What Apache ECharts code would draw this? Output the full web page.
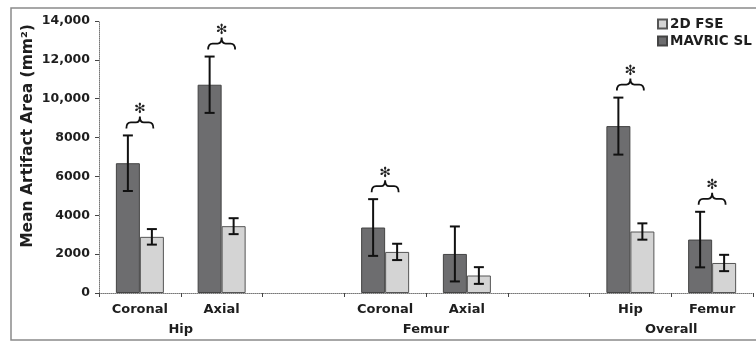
<!DOCTYPE html>
<html>
<head>
<meta charset="utf-8">
<script src="https://cdn.jsdelivr.net/npm/echarts@6/dist/echarts.min.js"></script>
<style>
html,body{margin:0;padding:0;background:#fff;}
#chart{width:756px;height:341px;}
</style>
</head>
<body>
<div id="chart"></div>
<script>
// ---- data ----
var categories = ['Coronal', 'Axial', '', 'Coronal', 'Axial', '', 'Hip', 'Femur'];
var groupLabels = { 1: 'Hip', 4: 'Femur', 7: 'Overall' };
var mavricMean = [6680, 10720, null, 3370, 2010, null, 8590, 2750];
var mavricSD   = [1430, 1450, null, 1460, 1415, null, 1467, 1430];
var fseMean    = [2890, 3440, null, 2115, 900, null, 3165, 1545];
var fseSD      = [400, 410, null, 420, 430, null, 420, 420];
var significant = [true, true, false, true, false, false, true, true];
var yTicks = [0, 2000, 4000, 6000, 8000, 10000, 12000, 14000];

var FONT = 'DejaVu Sans';
var TXT = '#1e1e1e';
var BAR_W = 24;

function errData(mean, sd) {
  var out = [];
  for (var i = 0; i < mean.length; i++) {
    if (mean[i] != null) out.push([i, mean[i], sd[i]]);
  }
  return out;
}
function braceData() {
  var out = [];
  for (var i = 0; i < categories.length; i++) {
    if (significant[i]) {
      var t = Math.max(mavricMean[i] + mavricSD[i], fseMean[i] + fseSD[i]);
      out.push([i, t]);
    }
  }
  return out;
}

function errRender(offset) {
  return function (params, api) {
    var i = api.value(0), m = api.value(1), s = api.value(2);
    var hi = api.coord([i, m + s]);
    var lo = api.coord([i, m - s]);
    var x = hi[0] + offset;
    var st = { stroke: '#111', lineWidth: 2 };
    return {
      type: 'group',
      children: [
        { type: 'line', shape: { x1: x, y1: hi[1], x2: x, y2: lo[1] }, style: st },
        { type: 'line', shape: { x1: x - 5, y1: hi[1], x2: x + 5, y2: hi[1] }, style: st },
        { type: 'line', shape: { x1: x - 5, y1: lo[1], x2: x + 5, y2: lo[1] }, style: st }
      ]
    };
  };
}

function braceRender(params, api) {
  var i = api.value(0), t = api.value(1);
  var p = api.coord([i, t]);
  var xc = p[0], yt = p[1];
  var yb = yt - 7, yh = yt - 13, yp = yt - 19, hw = 13.5;
  var d = 'M' + (xc - hw) + ' ' + yb +
          ' Q' + (xc - hw) + ' ' + yh + ' ' + (xc - 9) + ' ' + yh +
          ' L' + (xc - 4) + ' ' + yh +
          ' Q' + xc + ' ' + yh + ' ' + xc + ' ' + yp +
          ' Q' + xc + ' ' + yh + ' ' + (xc + 4) + ' ' + yh +
          ' L' + (xc + 9) + ' ' + yh +
          ' Q' + (xc + hw) + ' ' + yh + ' ' + (xc + hw) + ' ' + yb;
  return {
    type: 'group',
    children: [
      { type: 'path', shape: { pathData: d }, style: { stroke: '#111', lineWidth: 1.8, fill: null } },
      { type: 'text', style: { text: '\u273B', x: xc, y: yt - 26, align: 'center', verticalAlign: 'middle',
        font: '14px "' + FONT + '"', fill: '#222' } }
    ]
  };
}

var chart = echarts.init(document.getElementById('chart'), null, { renderer: 'canvas' });
chart.setOption({
  animation: false,
  backgroundColor: '#fff',
  graphic: [
    { type: 'rect', shape: { x: 11, y: 8, width: 800, height: 332 },
      style: { fill: null, stroke: '#8a8a8a', lineWidth: 1.5 }, z: -1 },
    { type: 'text', x: 28, y: 136, rotation: Math.PI / 2,
      style: { text: 'Mean Artifact Area (mm\u00B2)', align: 'center', verticalAlign: 'middle',
        font: 'bold 15.5px "' + FONT + '"', fill: TXT } }
  ],
  legend: {
    data: ['2D FSE', 'MAVRIC SL'],
    orient: 'vertical',
    left: 652, top: 12,
    itemWidth: 9, itemHeight: 9, itemGap: 3,
    icon: 'rect',
    textStyle: { fontFamily: FONT, fontWeight: 'bold', fontSize: 13.5, color: TXT, padding: [0, 0, 0, -2] }
  },
  grid: { left: 99, top: 21, width: 662, height: 272, containLabel: false },
  xAxis: [
    {
      type: 'category', data: categories, boundaryGap: true,
      axisLine: { lineStyle: { color: '#777', type: 'dotted', width: 1 } },
      axisTick: { show: true, inside: false, length: 4, lineStyle: { color: '#444' } },
      axisLabel: { interval: 0, margin: 10, fontFamily: FONT, fontWeight: 'bold', fontSize: 13, color: TXT }
    },
    {
      type: 'value', min: 0, max: 8, interval: 1, position: 'bottom',
      axisLine: { show: false }, axisTick: { show: false }, splitLine: { show: false },
      axisLabel: {
        margin: 30, fontFamily: FONT, fontWeight: 'bold', fontSize: 13, color: TXT,
        showMinLabel: true, showMaxLabel: true,
        formatter: function (v) { return groupLabels[v] || ''; }
      }
    }
  ],
  yAxis: {
    type: 'value', min: yTicks[0], max: yTicks[yTicks.length - 1], interval: yTicks[1] - yTicks[0],
    axisLine: { show: true, lineStyle: { color: '#777', type: 'dotted', width: 1 } },
    axisTick: { show: true, inside: false, length: 4, lineStyle: { color: '#444' } },
    splitLine: { show: false },
    axisLabel: {
      margin: 9, fontFamily: FONT, fontWeight: 'bold', fontSize: 12.5, color: TXT,
      formatter: function (v) { return v >= 10000 ? v.toLocaleString('en-US') : String(v); }
    }
  },
  series: [
    {
      name: 'MAVRIC SL', type: 'bar', data: mavricMean, barWidth: BAR_W, barGap: '0%',
      itemStyle: { color: '#6d6d6f', borderColor: '#444', borderWidth: 1 }
    },
    {
      name: '2D FSE', type: 'bar', data: fseMean, barWidth: BAR_W, barGap: '0%',
      itemStyle: { color: '#d4d4d4', borderColor: '#555', borderWidth: 1 }
    },
    { type: 'custom', name: 'errM', data: errData(mavricMean, mavricSD), renderItem: errRender(-BAR_W / 2),
      encode: { x: 0, y: 1 }, z: 5, silent: true },
    { type: 'custom', name: 'errF', data: errData(fseMean, fseSD), renderItem: errRender(BAR_W / 2),
      encode: { x: 0, y: 1 }, z: 5, silent: true },
    { type: 'custom', name: 'brace', data: braceData(), renderItem: braceRender,
      encode: { x: 0, y: 1 }, z: 5, silent: true }
  ]
});
</script>
</body>
</html>
